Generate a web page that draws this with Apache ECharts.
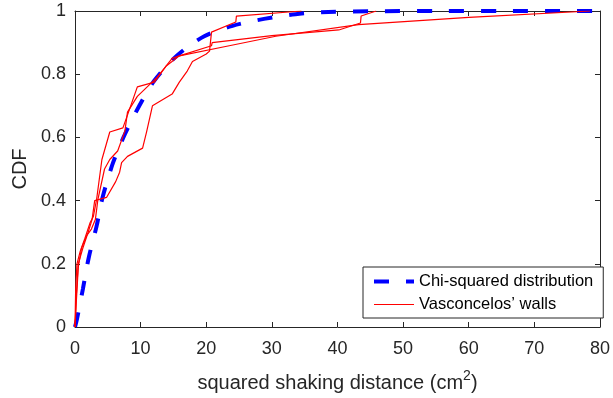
<!DOCTYPE html>
<html>
<head>
<meta charset="utf-8">
<script src="https://cdn.jsdelivr.net/npm/echarts@6/dist/echarts.min.js"></script>
<style>
html,body{margin:0;padding:0;background:#fff;}
#chart{width:613px;height:398px;}
</style>
</head>
<body>
<div id="chart"></div>
<script>
// Tick values
const xTicks = [0, 10, 20, 30, 40, 50, 60, 70, 80];
const yTicks = [0, 0.2, 0.4, 0.6, 0.8, 1];

// Chi-squared distribution
const chiX = [0, 0.3, 1.2, 2.1, 3.3, 4.2, 5.8, 7.6, 9.8, 12.1, 15.6, 19.7, 24, 28.8, 33.6, 38.6, 45, 55, 65, 80];
const chiY = [0, 0.025, 0.12, 0.22, 0.32, 0.41, 0.52, 0.61, 0.70, 0.78, 0.86, 0.92, 0.953, 0.975, 0.99, 0.997, 0.999, 1, 1, 1];

// Vasconcelos' walls, wall 1
const wall1X = [0, 0.2, 0.5, 1.2, 2.0, 2.6, 3.0, 4.8, 6.2, 6.8, 7.1, 8.0, 10.3, 10.9, 11.8, 14.8, 15.9, 17.1, 17.9, 20.0, 20.5, 20.8, 24.5, 24.6, 34.5];
const wall1Y = [0, 0.1, 0.2, 0.25, 0.3, 0.34, 0.40, 0.41, 0.46, 0.49, 0.52, 0.54, 0.566, 0.617, 0.70, 0.737, 0.775, 0.81, 0.84, 0.864, 0.873, 0.933, 0.965, 0.984, 1];

// wall 2
const wall2X = [0, 0.1, 0.3, 0.8, 1.5, 2.3, 2.8, 3.3, 4.1, 5.3, 7.3, 7.9, 9.5, 12.1, 13.9, 14.8, 15.9, 20.8, 20.9, 30, 40.2, 43.5, 43.6, 45.9];
const wall2Y = [0, 0.12, 0.2, 0.24, 0.28, 0.33, 0.35, 0.405, 0.53, 0.617, 0.63, 0.665, 0.76, 0.775, 0.826, 0.85, 0.858, 0.89, 0.90, 0.922, 0.94, 0.962, 0.984, 1];

// wall 3
const wall3X = [0, 0.2, 0.5, 1.0, 1.8, 2.5, 3.1, 3.5, 4.5, 5.3, 6.5, 7.6, 8.0, 9.5, 11.0, 12.5, 13.9, 15.9, 23.5, 30.6, 43.2, 60, 78.5];
const wall3Y = [0, 0.08, 0.19, 0.25, 0.29, 0.31, 0.34, 0.405, 0.5, 0.53, 0.557, 0.62, 0.68, 0.73, 0.76, 0.79, 0.826, 0.858, 0.89, 0.92, 0.957, 0.98, 1];

const chiName = 'Chi-squared distribution';
const wallName = 'Vasconcelos\u2019 walls';

const zip = (xs, ys) => xs.map((x, i) => [x, ys[i]]);
const AX = '#262626';
const FONT = 'Liberation Sans, Arial, sans-serif';

const chart = echarts.init(document.getElementById('chart'), null, {renderer: 'canvas'});

const commonX = {
  type: 'value', min: xTicks[0], max: xTicks[xTicks.length - 1], interval: 10,
  axisLine: {show: true, onZero: false, lineStyle: {color: AX, width: 1}},
  axisTick: {show: true, inside: true, length: 5, lineStyle: {color: AX}},
  splitLine: {show: false}
};
const commonY = {
  type: 'value', min: yTicks[0], max: yTicks[yTicks.length - 1], interval: 0.2,
  axisLine: {show: true, onZero: false, lineStyle: {color: AX, width: 1}},
  axisTick: {show: true, inside: true, length: 5, lineStyle: {color: AX}},
  splitLine: {show: false}
};

const blueLine = {color: '#0000ff', width: 4, type: [15, 17], cap: 'butt'};
const redLine = {color: '#ff0000', width: 1.2};

const redSeries = (xs, ys) => ({
  name: wallName, type: 'line', data: zip(xs, ys), showSymbol: false, symbol: 'none',
  lineStyle: redLine, itemStyle: {color: '#ff0000'}, z: 3
});

chart.setOption({
  animation: false,
  grid: {left: 75, right: 7, top: 11, bottom: 70, containLabel: false},
  xAxis: [
    Object.assign({}, commonX, {
      position: 'bottom',
      axisLabel: {show: true, fontSize: 18, color: AX, margin: 13, fontFamily: FONT},
      name: 'squared shaking distance (cm{sup|2})',
      nameLocation: 'middle', nameGap: 42,
      nameTextStyle: {
        fontSize: 20, color: AX, fontFamily: FONT,
        rich: {sup: {fontSize: 14, color: AX, padding: [0, 0, 14, 0], fontFamily: FONT}}
      }
    }),
    Object.assign({}, commonX, {position: 'top', axisLabel: {show: false}})
  ],
  yAxis: [
    Object.assign({}, commonY, {
      position: 'left',
      axisLabel: {show: true, fontSize: 18, color: AX, margin: 9, fontFamily: FONT},
      name: 'CDF', nameLocation: 'middle', nameGap: 45, nameRotate: 90,
      nameTextStyle: {fontSize: 20, color: AX, fontFamily: FONT}
    }),
    Object.assign({}, commonY, {position: 'right', axisLabel: {show: false}})
  ],
  legend: {
    data: [
      {name: chiName, lineStyle: blueLine, itemStyle: {opacity: 0}},
      {name: wallName, lineStyle: redLine, itemStyle: {opacity: 0}}
    ],
    orient: 'vertical', left: 363, top: 267,
    padding: [6, 10, 5, 9], itemGap: 6, itemWidth: 40, itemHeight: 14,
    itemStyle: {opacity: 0},
    backgroundColor: '#ffffff', borderColor: AX, borderWidth: 1, borderRadius: 0,
    textStyle: {fontSize: 16.5, color: '#000', fontFamily: FONT},
    selectedMode: false
  },
  series: [
    {
      name: chiName, type: 'line', data: zip(chiX, chiY), showSymbol: false, symbol: 'none',
      smooth: 0.3, lineStyle: blueLine, itemStyle: {color: '#0000ff'}, z: 2
    },
    redSeries(wall1X, wall1Y),
    redSeries(wall2X, wall2Y),
    redSeries(wall3X, wall3Y)
  ]
});
</script>
</body>
</html>
